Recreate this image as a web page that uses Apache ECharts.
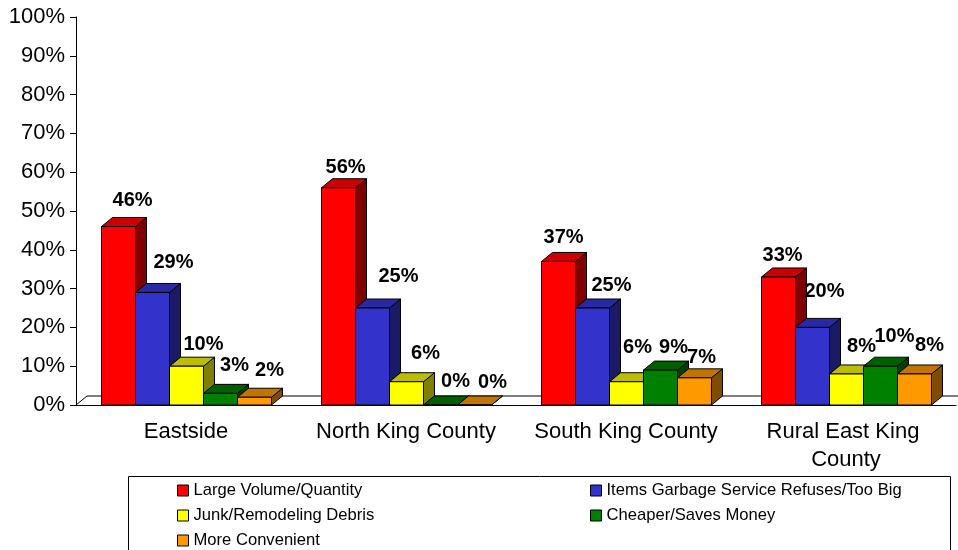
<!DOCTYPE html>
<html>
<head>
<meta charset="utf-8">
<style>html,body{margin:0;padding:0;background:#fff}#c{width:958px;height:550px}</style>
<script src="https://cdn.jsdelivr.net/npm/echarts@6/dist/echarts.min.js"></script>
</head>
<body>
<div id="c"></div>
<script>
const categories = ['Eastside', 'North King County', 'South King County', 'Rural East King County'];
const seriesNames = ['Large Volume/Quantity', 'Items Garbage Service Refuses/Too Big', 'Junk/Remodeling Debris', 'Cheaper/Saves Money', 'More Convenient'];
const largeVolume = [46, 56, 37, 33];
const itemsRefused = [29, 25, 25, 20];
const junkDebris = [10, 6, 6, 8];
const cheaper = [3, 0, 9, 10];
const moreConvenient = [2, 0, 7, 8];
const seriesValues = [largeVolume, itemsRefused, junkDebris, cheaper, moreConvenient];

// Styling and layout, kept apart from the data
const faceColors = ['#FF0000', '#3333CC', '#FFFF00', '#008000', '#FF9900'];
const topColors = ['#CC0000', '#2929A3', '#BDBD00', '#006000', '#C27400'];
const sideColors = ['#800000', '#1A1A66', '#808000', '#004000', '#804D00'];
const labelDx = [[14, 7, 5, 4], [21, 26, 19, 12], [17, 19, 11, 15], [14, 15, 13, 14], [15, 18, 7, 15]];
const labelDy = [[-26, -20, -24, -21], [-30, -32, -23, -36], [-22, -28, -34, -27], [-28, -24, -23, -30], [-27, -23, -20, -28]];
const DEPTH_X = 11, DEPTH_Y = 9, BAR_FRACTION = 0.1545, BAR_SHIFT = 0.5;
const FONT = '"Liberation Sans", Arial, sans-serif';
const edge = { stroke: '#000', lineWidth: 1 };

function floorItem(params, api) {
  const cs = params.coordSys;
  const y0 = api.coord([0, 0])[1];
  const xl = cs.x, xr = cs.x + cs.width;
  return {
    type: 'polyline',
    silent: true,
    shape: { points: [[xl, y0], [xl + DEPTH_X, y0 - DEPTH_Y], [xr + DEPTH_X, y0 - DEPTH_Y]] },
    style: { fill: null, stroke: '#000', lineWidth: 1 }
  };
}

function barItem(s) {
  return function (params, api) {
    const c = api.value(0), v = api.value(1);
    const center = api.coord([c, v]);
    const base = api.coord([c, 0]);
    const w = api.size([1, 0])[0] * BAR_FRACTION;
    const x0 = center[0] + (s - 2.5) * w + BAR_SHIFT;
    const x1 = x0 + w;
    const yt = center[1], yb = base[1];
    return {
      type: 'group',
      children: [
        { type: 'polygon', shape: { points: [[x1, yt], [x1 + DEPTH_X, yt - DEPTH_Y], [x1 + DEPTH_X, yb - DEPTH_Y], [x1, yb]] },
          style: Object.assign({ fill: sideColors[s] }, edge) },
        { type: 'polygon', shape: { points: [[x0, yt], [x0 + DEPTH_X, yt - DEPTH_Y], [x1 + DEPTH_X, yt - DEPTH_Y], [x1, yt]] },
          style: Object.assign({ fill: topColors[s] }, edge) },
        { type: 'rect', shape: { x: x0, y: yt, width: w, height: yb - yt },
          style: Object.assign({ fill: faceColors[s] }, edge) },
        { type: 'text', z2: 100,
          style: { text: v + '%', x: (x0 + x1) / 2 + labelDx[s][c], y: yt + labelDy[s][c],
                   align: 'center', verticalAlign: 'middle', fill: '#000',
                   font: 'bold 20px ' + FONT } }
      ]
    };
  };
}

const barSeries = seriesNames.map(function (name, s) {
  return {
    name: name,
    type: 'custom',
    coordinateSystem: 'cartesian2d',
    renderItem: barItem(s),
    encode: { x: 0, y: 1 },
    clip: false,
    z: 3,
    itemStyle: { color: faceColors[s], borderColor: '#000', borderWidth: 1 },
    data: seriesValues[s].map(function (v, c) { return [c, v]; })
  };
});

const legendBase = {
  orient: 'vertical', selectedMode: false, icon: 'rect',
  itemWidth: 11, itemHeight: 11, itemGap: 8, padding: 0,
  itemStyle: { borderColor: '#000', borderWidth: 1 },
  textStyle: { color: '#000', fontFamily: FONT, fontSize: 16.6, lineHeight: 16 }
};

const chart = echarts.init(document.getElementById('c'), null, { renderer: 'canvas' });
chart.setOption({
  animation: false,
  backgroundColor: '#fff',
  grid: { left: 76, right: 2, top: 17, bottom: 145, containLabel: false },
  xAxis: {
    type: 'category',
    data: categories,
    boundaryGap: true,
    axisTick: { show: false },
    axisLine: { show: true, lineStyle: { color: '#000', width: 1 } },
    axisLabel: { color: '#000', fontFamily: FONT, fontSize: 22, lineHeight: 28, margin: 13, interval: 0, width: 200, overflow: 'break' }
  },
  yAxis: {
    type: 'value', min: 0, max: 100, interval: 10,
    splitLine: { show: false },
    axisTick: { show: true, length: 6, lineStyle: { color: '#000', width: 1 } },
    axisLine: { show: true, lineStyle: { color: '#000', width: 1 } },
    axisLabel: { color: '#000', fontFamily: FONT, fontSize: 22, margin: 11, formatter: '{value}%' }
  },
  legend: [
    Object.assign({}, legendBase, { left: 177, top: 482, data: [seriesNames[0], seriesNames[2], seriesNames[4]] }),
    Object.assign({}, legendBase, { left: 590, top: 482, data: [seriesNames[1], seriesNames[3]] })
  ],
  graphic: [{ type: 'rect', silent: true, z: -1, shape: { x: 128.5, y: 476.5, width: 822, height: 90 },
              style: { fill: '#fff', stroke: '#000', lineWidth: 1 } }],
  series: [{
    type: 'custom', coordinateSystem: 'cartesian2d', renderItem: floorItem, silent: true, z: 1,
    encode: { x: 0, y: 1 }, clip: false, data: [[0, 0]]
  }].concat(barSeries)
});
</script>
</body>
</html>
